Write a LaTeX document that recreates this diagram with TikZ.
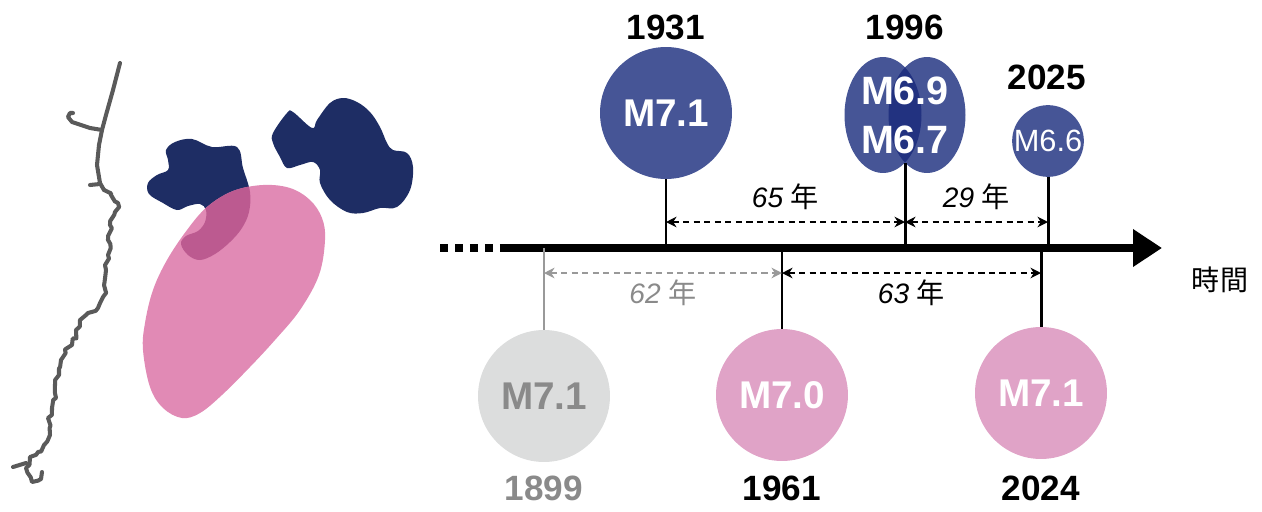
\documentclass[tikz,border=0pt]{standalone}
\usepackage{fontspec}
\setmainfont{Liberation Sans}
\newfontfamily\cjk{Noto Sans CJK TC}
\usetikzlibrary{arrows.meta,decorations.pathmorphing}

\definecolor{navy}{HTML}{1E2D64}
\definecolor{egg}{HTML}{E18AB5}
\definecolor{eggdark}{HTML}{BC5A90}
\definecolor{evblue}{HTML}{465596}
\definecolor{evdark}{HTML}{223280}
\definecolor{evpink}{HTML}{E0A3C7}
\definecolor{evgray}{HTML}{DCDDDD}
\definecolor{txgray}{HTML}{8A8A8A}
\definecolor{lngray}{HTML}{999999}
\definecolor{coast}{HTML}{5A5A5A}

\tikzset{
	ev/.style={circle,inner sep=0pt,minimum size=2.64cm,text=white,font=\fontsize{22}{24}\selectfont\bfseries},
	yr/.style={font=\fontsize{20}{22}\selectfont\bfseries},
	tick/.style={line width=1.7pt},
	gap/.style={line width=0.8pt,dash pattern=on 3.5pt off 2.5pt,{Stealth[length=6pt,width=6pt]}-{Stealth[length=6pt,width=6pt]}},
	gaplbl/.style={font=\fontsize{16}{18}\selectfont\itshape},
	shore/.style={coast,line width=2.3pt,line join=round,line cap=round},
}

\def\eggpath{plot[smooth cycle,tension=.6] coordinates {(263,185) (290,188) (310,200) (322,218) (325,240) (319,275) (300,310) (275,340) (250,367) (222,395) (200,413) (182,418) (163,408) (150,387) (143,350) (145,323) (153,290) (167,260) (187,230) (207,207) (233,191)}}
\def\blobpath{plot[smooth cycle,tension=.6] coordinates {(166,150) (175,142) (192,139) (212,147) (237,147) (243,168) (250,192) (249,212) (242,228) (230,242) (215,254) (200,260) (188,255) (181,244) (186,236) (198,231) (205,222) (206,210) (200,204) (188,206) (177,210) (163,203) (149,194) (148,183) (157,175) (168,170) (168,160)}}

\begin{document}
	\begin{tikzpicture}[x=0.02cm,y=-0.02cm]
		\useasboundingbox (0,0) rectangle (1262,511);
		
		% coast
		\draw[shore] (120,63) -- (113,90) -- (106,115) -- (102,130) -- (99,145) -- (97,165) -- (100,183) -- (104,190);
		\draw[shore] (102,130) -- (90,128) -- (78,124) -- (72,122) -- (68,117) -- (70,113) -- (73,113);
		\draw[shore] (100,184) -- (90,185);
		\draw[shore,decorate,decoration={random steps,segment length=3pt,amplitude=1.6pt}]
			(104,190) -- (111,195) -- (118,203) -- (115,212) -- (110,225) -- (108,240) -- (108,255) -- (106,270) -- (104,285) -- (103,297) -- (98,308) -- (88,313) -- (80,320) -- (76,330) -- (72,345) -- (65,350) -- (61,360) -- (59,375) -- (55,385) -- (56,398) -- (52,408) -- (48,418) -- (50,435) -- (44,445) -- (38,452) -- (30,457) -- (26,468) -- (32,482) -- (41,479) -- (42,472);
		\draw[shore] (26,463) -- (13,467);
		
		% source areas
		\fill[navy] \blobpath;
		\fill[navy] plot[smooth cycle,tension=.6] coordinates {(273,133) (287,113) (293,112) (312,128) (317,120) (330,103) (343,98) (357,102) (370,112) (380,127) (387,143) (393,150) (407,153) (413,167) (410,190) (397,207) (380,208) (363,213) (347,212) (330,200) (320,183) (320,170) (313,162) (300,165) (287,168) (280,157) (273,143)};
		\fill[egg] \eggpath;
		\begin{scope}
			\clip \eggpath;
			\fill[eggdark] \blobpath;
		\end{scope}
		
		% time axis
		\coordinate (ax00) at (440,248);
		\coordinate (ax0) at (502,248);
		\coordinate (ax1) at (1162,248);
		\draw[line width=4pt,dash pattern=on 0.167cm off 0.133cm] (ax00) -- (ax0);
		\draw[line width=4pt,-{Triangle[length=0.58cm,width=0.72cm]}] (ax0) -- (ax1);
		\node[font=\cjk\fontsize{16}{18}\selectfont] (tlbl) at (1220,280) {時間};
		
		% events above the axis
		\node[ev,fill=evblue] (e1931) at (666,113) {M7.1};
		\node[yr] (y1931) at (666,27) {1931};
		\fill[evblue] (883,115) ellipse [x radius=0.77cm,y radius=1.16cm];
		\fill[evblue] (927,115) ellipse [x radius=0.77cm,y radius=1.16cm];
		\begin{scope}
			\clip (883,115) ellipse [x radius=0.77cm,y radius=1.16cm];
			\fill[evdark] (927,115) ellipse [x radius=0.77cm,y radius=1.16cm];
		\end{scope}
		\node[align=center,text=white,minimum height=1.92cm,inner sep=0pt,font=\fontsize{22.5}{28}\selectfont\bfseries] (e1996) at (905,115) {M6.9\\M6.7};
		\node[yr] (y1996) at (905,27) {1996};
		\node[ev,fill=evblue,minimum size=1.36cm,font=\fontsize{17.5}{18}\selectfont] (e2025) at (1048,141) {M6.6};
		\node[yr] (y2025) at (1047,77) {2025};
		\foreach \e in {e1931,e1996,e2025}
			\draw[tick] (\e.south) -- (\e.south |- ax0);
		
		% events below the axis
		\node[ev,fill=evgray,text=txgray] (e1899) at (544,396) {M7.1};
		\node[yr,text=txgray] (y1899) at (544,488) {1899};
		\node[ev,fill=evpink] (e1961) at (782,395) {M7.0};
		\node[yr] (y1961) at (782,488) {1961};
		\node[ev,fill=evpink] (e2024) at (1041,393) {M7.1};
		\node[yr] (y2024) at (1041,488) {2024};
		\draw[tick,lngray] (e1899.north) -- (e1899.north |- ax0);
		\foreach \e in {e1961,e2024}
			\draw[tick] (\e.north) -- (\e.north |- ax0);
		
		% intervals
		\coordinate (gu) at (0,222);
		\coordinate (gd) at (0,273);
		\draw[gap] (e1931 |- gu) -- node[gaplbl,above=3pt,text=black] (l65) {65 {\cjk\upshape 年}} (e1996 |- gu);
		\draw[gap] (e1996 |- gu) -- node[gaplbl,above=3pt] (l29) {29 {\cjk\upshape 年}} (e2025 |- gu);
		\draw[gap,lngray] (e1899 |- gd) -- node[gaplbl,below=0pt,text=txgray] (l62) {62 {\cjk\upshape 年}} (e1961 |- gd);
		\draw[gap] (e1961 |- gd) -- node[gaplbl,below=0pt] (l63) {63 {\cjk\upshape 年}} (e2024 |- gd);
	\end{tikzpicture}
\end{document}
